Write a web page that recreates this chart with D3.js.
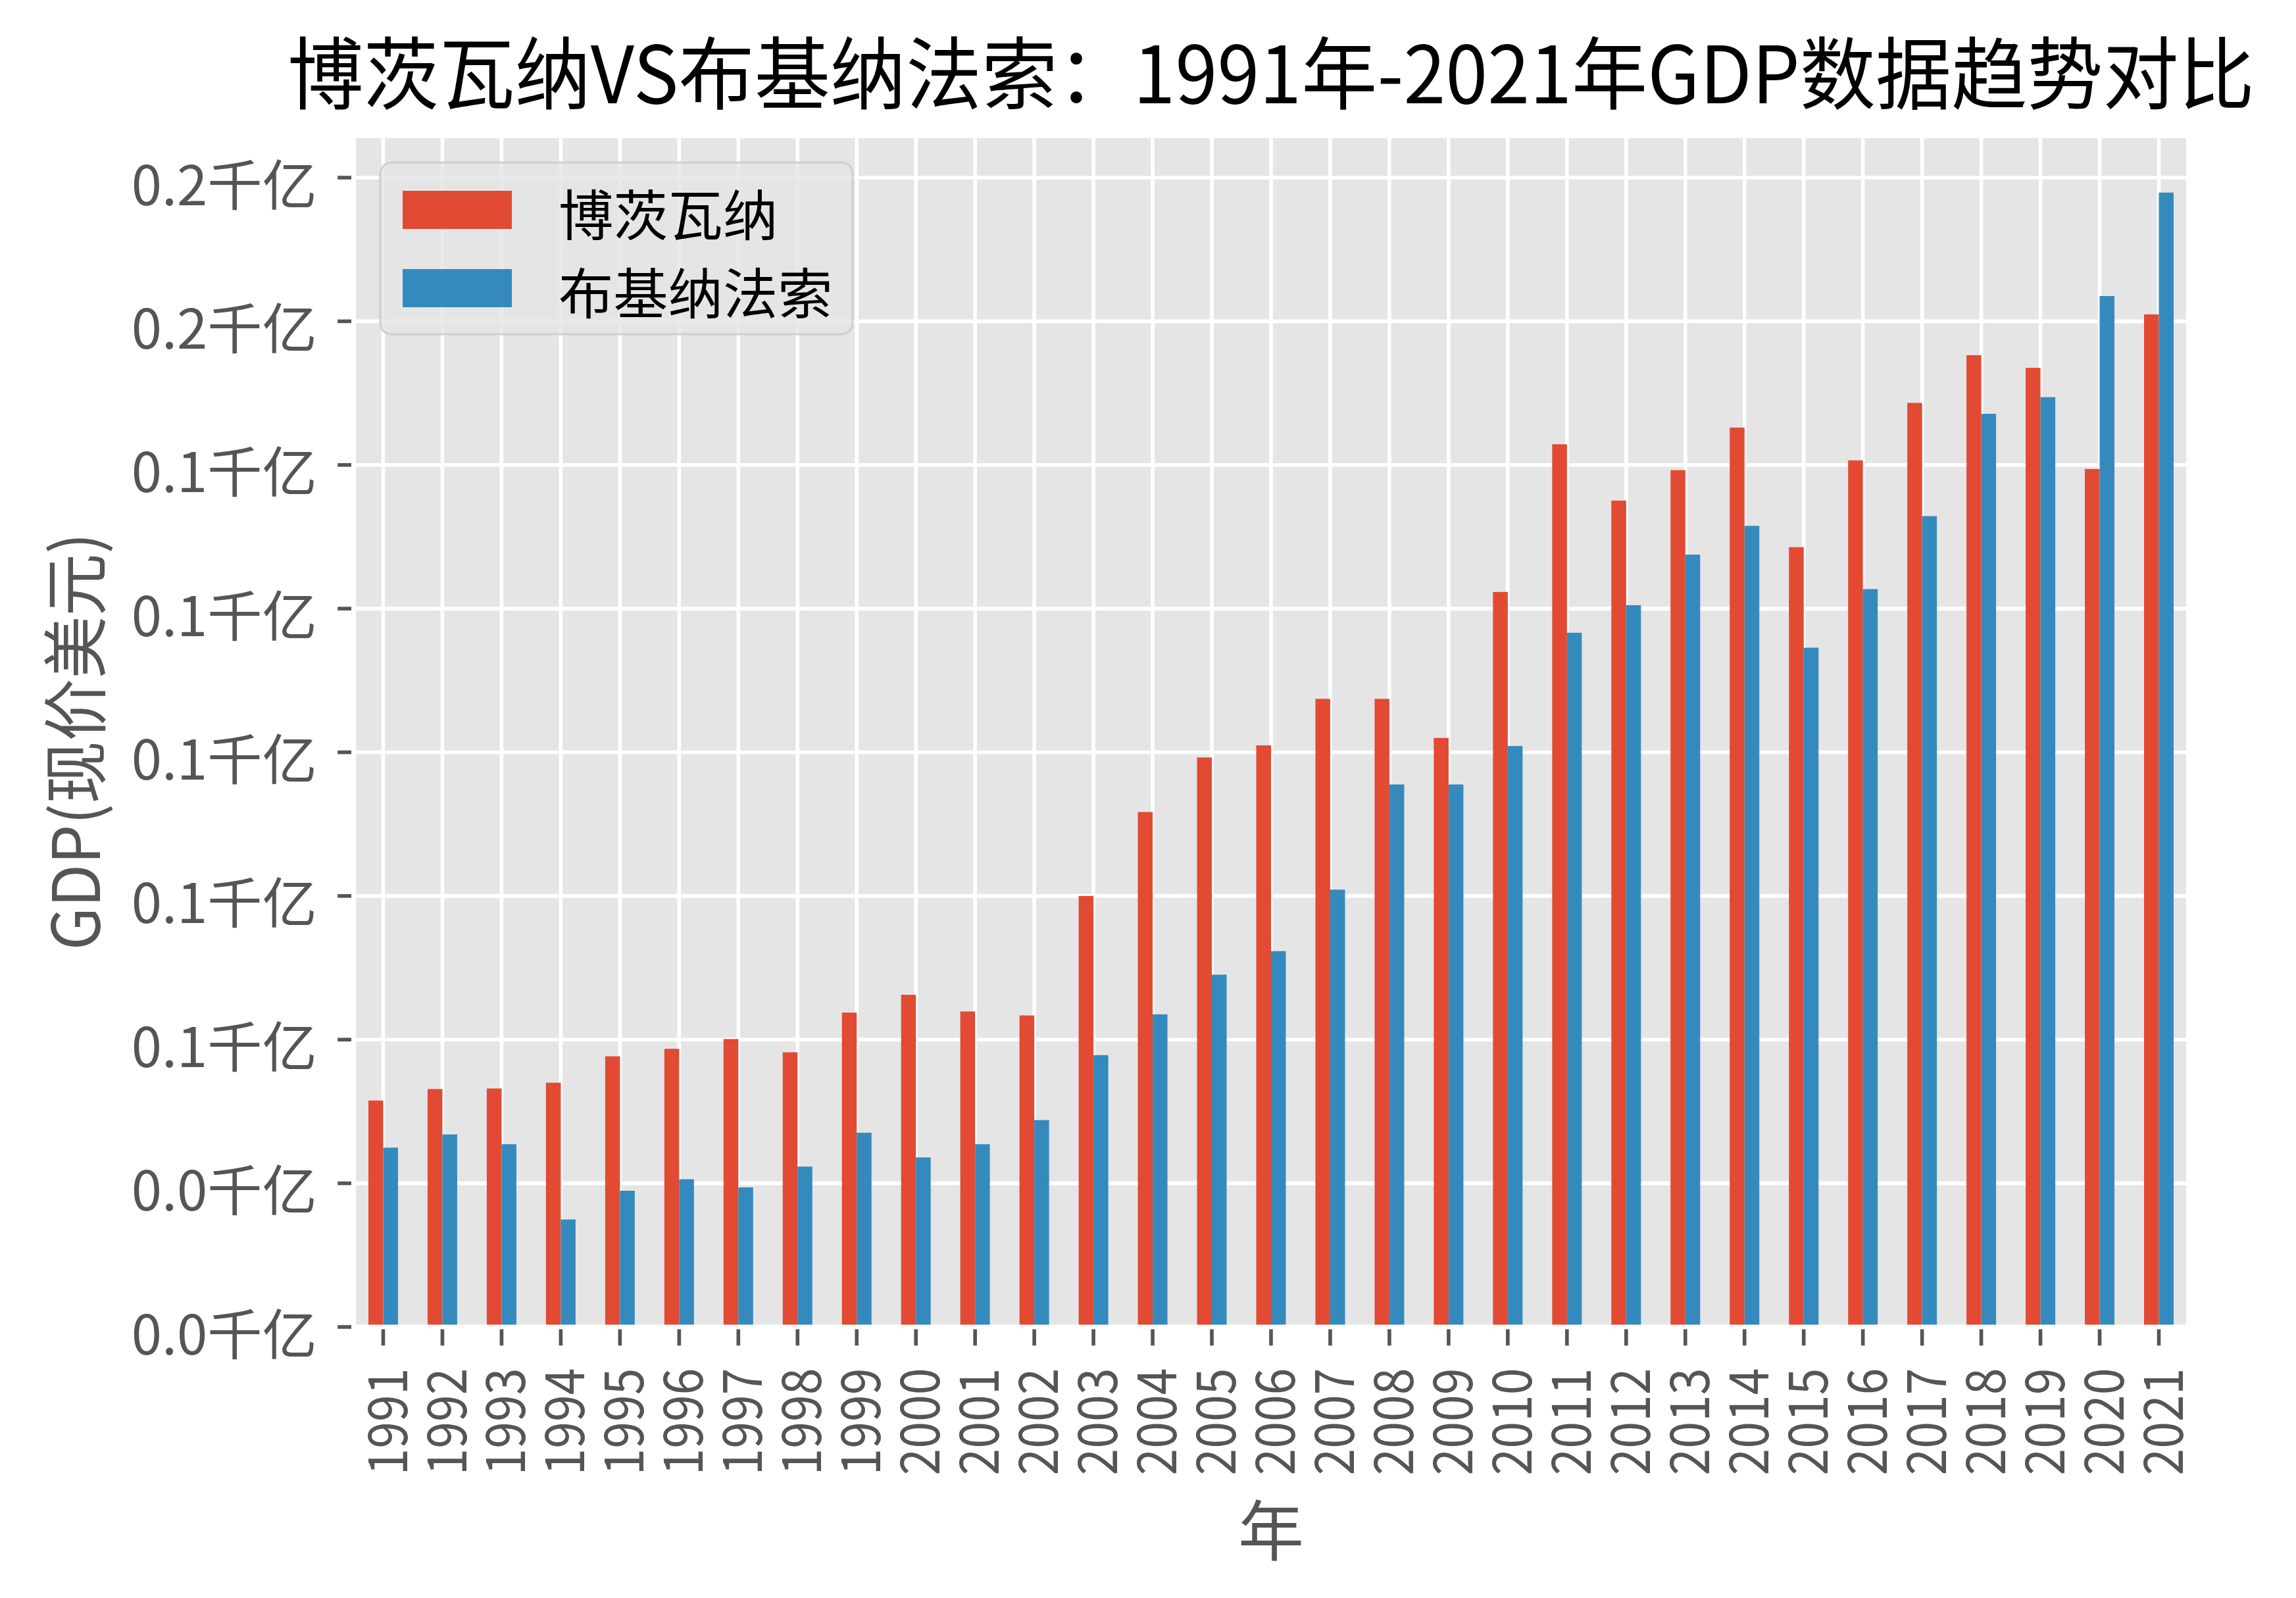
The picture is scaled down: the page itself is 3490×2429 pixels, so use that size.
<!DOCTYPE html>
<html>
<head>
<meta charset="utf-8">
<script src="https://cdn.jsdelivr.net/npm/d3@7"></script>
<style>
  html, body { margin: 0; padding: 0; background: #ffffff; }
  svg { display: block; }
  text { font-family: "Noto Sans CJK SC", "Noto Sans", sans-serif; }
</style>
</head>
<body>
<script>
// ---------------- data (GDP, 千亿美元) ----------------
const years = ["1991","1992","1993","1994","1995","1996","1997","1998","1999","2000",
  "2001","2002","2003","2004","2005","2006","2007","2008","2009","2010",
  "2011","2012","2013","2014","2015","2016","2017","2018","2019","2020","2021"];
const botswana = [0.0394, 0.0414, 0.0415, 0.0425, 0.0471, 0.0484, 0.0501, 0.0478, 0.0547, 0.0578,
  0.0549, 0.0542, 0.0750, 0.0896, 0.0991, 0.1012, 0.1093, 0.1093, 0.1025, 0.1279,
  0.1536, 0.1438, 0.1491, 0.1565, 0.1357, 0.1508, 0.1608, 0.1691, 0.1669, 0.1493, 0.1762];
const burkina = [0.0312, 0.0335, 0.0318, 0.0187, 0.0237, 0.0257, 0.0243, 0.0279, 0.0338, 0.0295,
  0.0318, 0.0360, 0.0473, 0.0544, 0.0613, 0.0654, 0.0761, 0.0944, 0.0944, 0.1011,
  0.1208, 0.1256, 0.1344, 0.1394, 0.1182, 0.1284, 0.1411, 0.1589, 0.1618, 0.1794, 0.1974];
const seriesNames = ["博茨瓦纳", "布基纳法索"];
const seriesColors = ["#E24A33", "#348ABD"];
const yTickValues = [0, 0.025, 0.05, 0.075, 0.1, 0.125, 0.15, 0.175, 0.2];
const yTickLabels = ["0.0千亿","0.0千亿","0.1千亿","0.1千亿","0.1千亿","0.1千亿","0.1千亿","0.2千亿","0.2千亿"];
const titleText = "博茨瓦纳VS布基纳法索：1991年-2021年GDP数据趋势对比";
const xLabelText = "年";
const yLabelText = "GDP(现价美元)";

// ---------------- layout ----------------
const W = 3490, H = 2429;
const ML = 537.5, MR = 3326.5, MT = 206.5, MB = 2017;
const base = 83.3;
const tickLen = 24.3, tickPad = 24.3;
const gray = "#555555";

const svg = d3.select("body").append("svg")
  .attr("width", W).attr("height", H)
  .attr("viewBox", `0 0 ${W} ${H}`);

svg.append("rect").attr("x", 0).attr("y", 0).attr("width", W).attr("height", H).attr("fill", "#ffffff");

const x = d3.scaleBand().domain(years).range([ML, MR]).paddingInner(0).paddingOuter(0);
const bw = x.bandwidth();
const ymax = d3.max(botswana.concat(burkina)) * 1.05;
const y = d3.scaleLinear().domain([0, ymax]).range([MB, MT]);

// background
svg.append("rect").attr("x", ML).attr("y", MT).attr("width", MR - ML).attr("height", MB - MT)
  .attr("fill", "#E5E5E5");

// grid
const grid = svg.append("g").attr("stroke", "#ffffff").attr("stroke-width", 5.6);
grid.selectAll("line.h").data(yTickValues).join("line")
  .attr("x1", ML).attr("x2", MR).attr("y1", d => y(d)).attr("y2", d => y(d));
grid.selectAll("line.v").data(years).join("line")
  .attr("x1", d => x(d) + bw / 2).attr("x2", d => x(d) + bw / 2).attr("y1", MT).attr("y2", MB);

// bars
const seriesData = [botswana, burkina];
seriesData.forEach((vals, si) => {
  svg.append("g").selectAll("rect").data(vals).join("rect")
    .attr("x", (d, i) => x(years[i]) + bw / 2 - 0.25 * bw + si * 0.25 * bw)
    .attr("width", 0.25 * bw)
    .attr("y", d => y(d))
    .attr("height", d => MB - y(d))
    .attr("fill", seriesColors[si]);
});

// ticks
const ticks = svg.append("g").attr("stroke", gray).attr("stroke-width", 5.6);
ticks.selectAll("line.yt").data(yTickValues).join("line")
  .attr("x1", ML).attr("x2", ML - tickLen).attr("y1", d => y(d)).attr("y2", d => y(d));
ticks.selectAll("line.xt").data(years).join("line")
  .attr("x1", d => x(d) + bw / 2).attr("x2", d => x(d) + bw / 2).attr("y1", MB).attr("y2", MB + tickLen + 4);

// white spines
svg.append("rect").attr("x", ML).attr("y", MT).attr("width", MR - ML).attr("height", MB - MT)
  .attr("fill", "none").attr("stroke", "#ffffff").attr("stroke-width", 7);

// helper: squeeze a text along its own direction to a target length
function fitText(sel, target) {
  sel.each(function() {
    const n = this.getComputedTextLength();
    const s = n > 0 ? target / n : 1;
    const t = d3.select(this).attr("data-t") || "";
    d3.select(this).attr("transform", `${t} scale(${s},1)`);
  });
}

// y tick labels
svg.append("g").selectAll("text").data(yTickValues).join("text")
  .attr("x", ML - tickLen - tickPad - 7)
  .attr("y", d => y(d) + 5)
  .attr("text-anchor", "end")
  .attr("dominant-baseline", "central")
  .attr("font-size", base)
  .attr("fill", gray)
  .text((d, i) => yTickLabels[i]);

// x tick labels (rotated)
const xt = svg.append("g").selectAll("text").data(years).join("text")
  .attr("data-t", d => `translate(${x(d) + bw / 2},${MB + tickLen + tickPad + 14}) rotate(-90)`)
  .attr("text-anchor", "end")
  .attr("dominant-baseline", "central")
  .attr("font-size", base)
  .attr("fill", gray)
  .text(d => d);
fitText(xt, 163);

// axis labels
svg.append("text")
  .attr("x", (ML + MR) / 2).attr("y", 2320)
  .attr("text-anchor", "middle").attr("dominant-baseline", "central")
  .attr("font-size", 100).attr("fill", gray)
  .text(xLabelText);

const yl = svg.append("text")
  .attr("data-t", `translate(108,1127) rotate(-90)`)
  .attr("text-anchor", "middle").attr("dominant-baseline", "central")
  .attr("font-size", 100).attr("fill", gray)
  .text(yLabelText);
fitText(yl, 635);

// title
const tt = svg.append("text")
  .attr("data-t", `translate(${(ML + MR) / 2},157)`)
  .attr("text-anchor", "middle")
  .attr("font-size", 120).attr("fill", "#000000")
  .text(titleText);
fitText(tt, 2990);

// legend
const lg = svg.append("g");
lg.append("rect").attr("x", 578).attr("y", 247).attr("width", 718).attr("height", 261)
  .attr("rx", 17).attr("ry", 17)
  .attr("fill", "#E5E5E5").attr("fill-opacity", 0.8)
  .attr("stroke", "#CCCCCC").attr("stroke-opacity", 0.8).attr("stroke-width", 3.5);
const legendRowY = [319, 438];
seriesNames.forEach((name, i) => {
  lg.append("rect").attr("x", 612).attr("y", legendRowY[i] - 29).attr("width", 166).attr("height", 58)
    .attr("fill", seriesColors[i]);
  lg.append("text").attr("x", 849).attr("y", legendRowY[i] + 2)
    .attr("dominant-baseline", "central")
    .attr("font-size", base).attr("fill", "#000000")
    .text(name);
});
</script>
</body>
</html>
